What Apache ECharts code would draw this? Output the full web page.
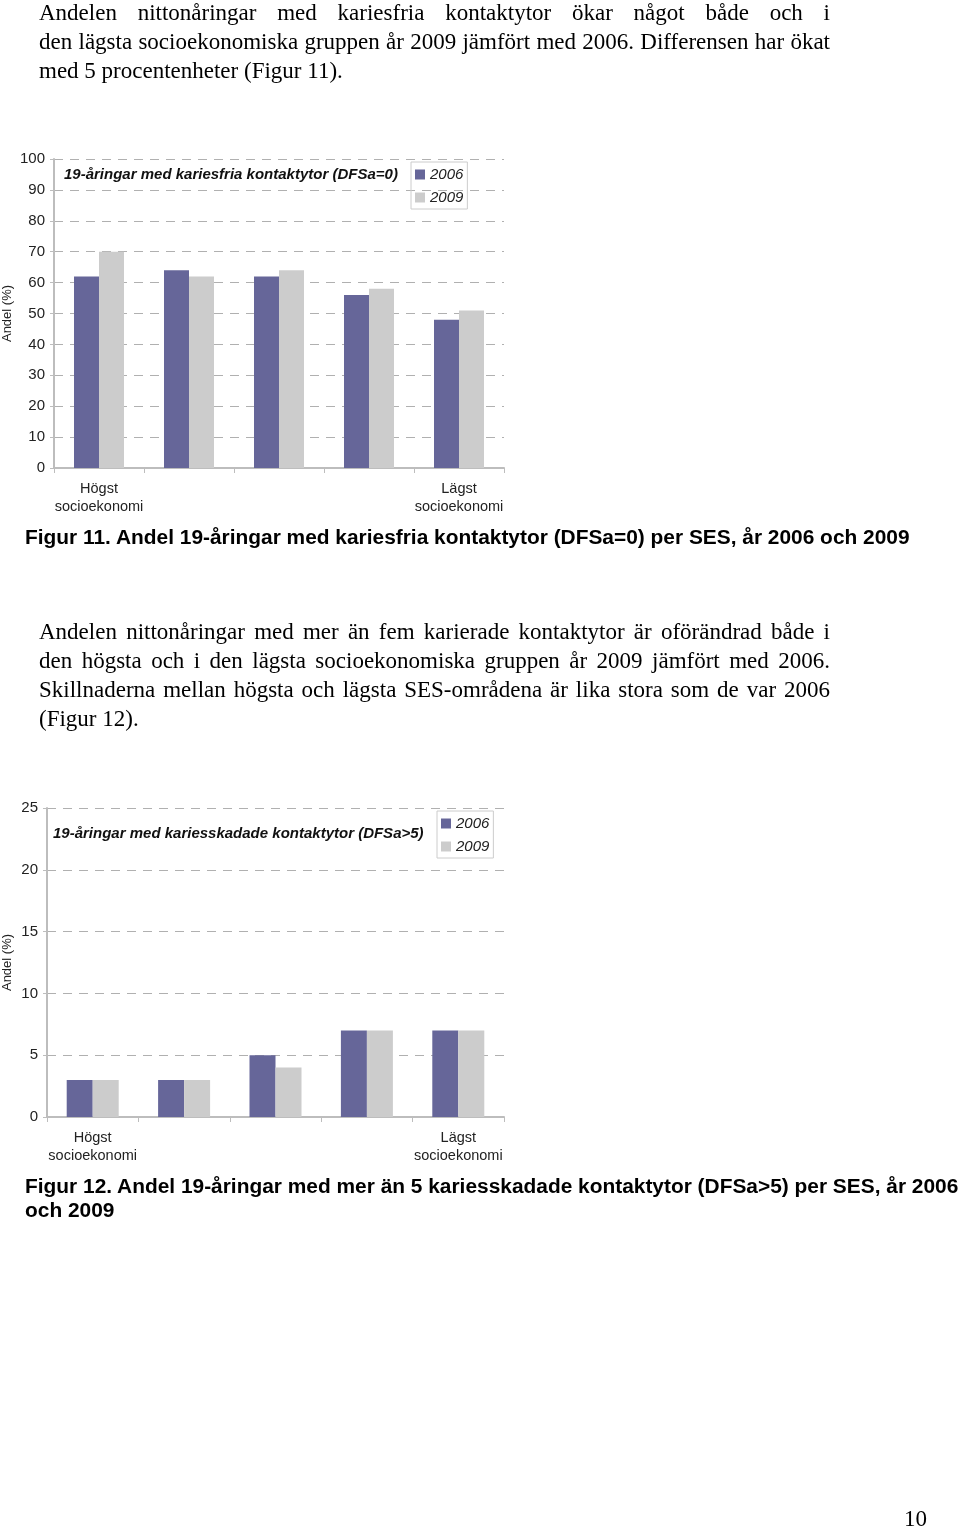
<!DOCTYPE html>
<html>
<head>
<meta charset="utf-8">
<script src="https://cdn.jsdelivr.net/npm/echarts@6/dist/echarts.min.js"></script>
<style>
  html, body { margin: 0; padding: 0; background: #fff; }
  #wrap { position: relative; width: 960px; height: 1530px; overflow: hidden; }
  #chart { position: absolute; left: 0; top: 0; width: 960px; height: 1530px; }
  .p { position: absolute; left: 39px; width: 791px; font-family: "Liberation Serif", "Times New Roman", serif; font-size: 23px; line-height: 29px; color: #000; white-space: nowrap; }
  .j { text-align: justify; text-align-last: justify; white-space: normal; }
  .cap { position: absolute; left: 25px; font-family: "Liberation Sans", Arial, sans-serif; font-weight: bold; font-size: 20.9px; line-height: 24px; color: #000; white-space: nowrap; }
  .pg { position: absolute; left: 904px; top: 1506px; font-family: "Liberation Serif", serif; font-size: 23px; color: #000; }
</style>
</head>
<body>
<div id="wrap">
  <div id="chart"></div>
  <div class="p j" style="top:-2px">Andelen nittonåringar med kariesfria kontaktytor ökar något både och i</div>
  <div class="p j" style="top:27px">den lägsta socioekonomiska gruppen år 2009 jämfört med 2006. Differensen har ökat</div>
  <div class="p" style="top:56px">med 5 procentenheter (Figur 11).</div>
  <div class="cap" style="top:525px">Figur 11. Andel 19-åringar med kariesfria kontaktytor (DFSa=0) per SES, år 2006 och 2009</div>
  <div class="p j" style="top:617px">Andelen nittonåringar med mer än fem karierade kontaktytor är oförändrad både i</div>
  <div class="p j" style="top:646px">den högsta och i den lägsta socioekonomiska gruppen år 2009 jämfört med 2006.</div>
  <div class="p j" style="top:675px">Skillnaderna mellan högsta och lägsta SES-områdena är lika stora som de var 2006</div>
  <div class="p" style="top:704px">(Figur 12).</div>
  <div class="cap" style="top:1174px">Figur 12. Andel 19-åringar med mer än 5 kariesskadade kontaktytor (DFSa&gt;5) per SES, år 2006<br>och 2009</div>
  <div class="pg">10</div>
</div>
<script>
// ---- data ----
var categories = ['Högst\nsocioekonomi', '', '', '', 'Lägst\nsocioekonomi'];
var seriesNames = ['2006', '2009'];
var fig11_2006 = [62, 64, 62, 56, 48];
var fig11_2009 = [70, 62, 64, 58, 51];
var fig12_2006 = [3, 3, 5, 7, 7];
var fig12_2009 = [3, 3, 4, 7, 7];
var fig11Title = '19-åringar med kariesfria kontaktytor (DFSa=0)';
var fig12Title = '19-åringar med kariesskadade kontaktytor (DFSa>5)';
var yName = 'Andel (%)';

var C2006 = '#666699', C2009 = '#cccccc';
var FONT = '"Liberation Sans", Arial, sans-serif';

function xAxis(gi) {
  return {
    type: 'category', gridIndex: gi, data: categories,
    axisLine: { lineStyle: { color: '#bdbdbd', width: 2 } },
    axisTick: { show: true, length: 5, lineStyle: { color: '#bdbdbd', width: 1 } },
    axisLabel: { interval: 0, margin: 12, color: '#222', fontFamily: FONT, fontSize: 14.5, lineHeight: 18 }
  };
}
function yAxis(gi, max, interval, nameGap) {
  return {
    type: 'value', gridIndex: gi, min: 0, max: max, interval: interval,
    name: yName, nameLocation: 'middle', nameGap: nameGap,
    nameTextStyle: { color: '#222', fontFamily: FONT, fontSize: 13 },
    axisLine: { show: true, lineStyle: { color: '#bdbdbd', width: 2 } },
    axisTick: { show: true, length: 4, lineStyle: { color: '#bdbdbd' } },
    axisLabel: { margin: 9, color: '#222', fontFamily: FONT, fontSize: 15 },
    splitLine: { show: true, lineStyle: { color: '#b0b0b0', type: [9, 7], width: 1 } }
  };
}
function bar(name, data, gi, color, w) {
  return { name: name, type: 'bar', xAxisIndex: gi, yAxisIndex: gi, data: data,
    barWidth: w, barGap: '0%', itemStyle: { color: color }, animation: false };
}
function legend(left, top) {
  return {
    data: seriesNames, left: left, top: top, orient: 'vertical',
    icon: 'rect', itemWidth: 10, itemHeight: 10, itemGap: 8,
    borderColor: '#cccccc', borderWidth: 1, padding: [5, 4, 4, 4],
    textStyle: { color: '#222', fontFamily: FONT, fontSize: 15, fontStyle: 'italic' },
    selectedMode: false
  };
}

var chart = echarts.init(document.getElementById('chart'), null, { renderer: 'canvas' });
chart.setOption({
  animation: false,
  title: [
    { text: fig11Title, left: 64, top: 167, padding: 0,
      textStyle: { fontFamily: FONT, fontSize: 15, fontWeight: 'bold', fontStyle: 'italic', color: '#111' } },
    { text: fig12Title, left: 53, top: 826, padding: 0,
      textStyle: { fontFamily: FONT, fontSize: 15, fontWeight: 'bold', fontStyle: 'italic', color: '#111' } }
  ],
  legend: [legend(411, 162), legend(437, 811)],
  grid: [
    { left: 54, top: 159, width: 450, height: 309, outerBoundsMode: 'none', containLabel: false },
    { left: 47, top: 808, width: 457, height: 309, outerBoundsMode: 'none', containLabel: false }
  ],
  xAxis: [xAxis(0), xAxis(1)],
  yAxis: [yAxis(0, 100, 10, 40), yAxis(1, 25, 5, 33)],
  series: [
    bar(seriesNames[0], fig11_2006, 0, C2006, 25),
    bar(seriesNames[1], fig11_2009, 0, C2009, 25),
    bar(seriesNames[0], fig12_2006, 1, C2006, 26),
    bar(seriesNames[1], fig12_2009, 1, C2009, 26)
  ]
});
</script>
</body>
</html>
